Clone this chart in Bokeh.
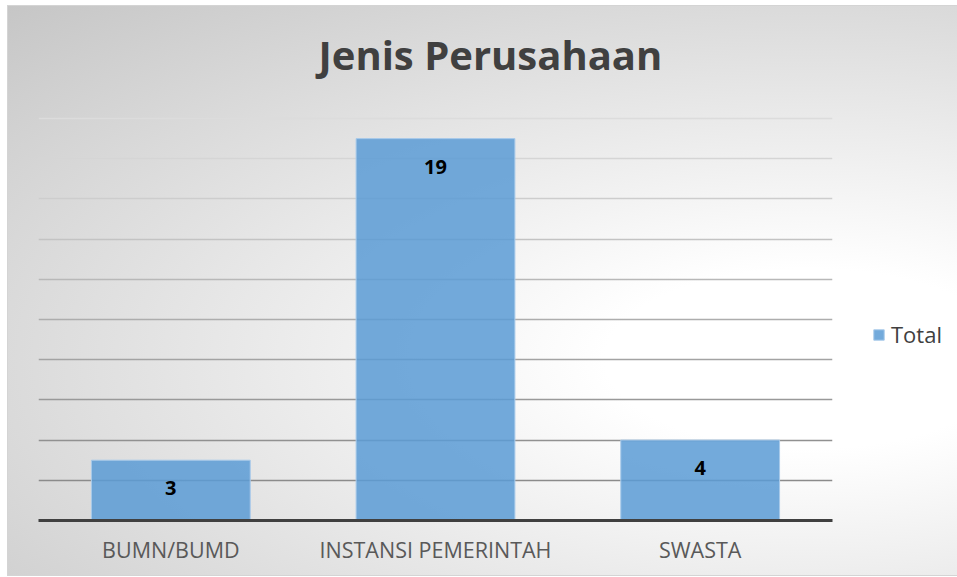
from bokeh.plotting import figure
from bokeh.models import FactorRange, Range1d, Title, Legend, LegendItem
from bokeh.core.properties import value
from bokeh.embed import file_html
from bokeh.resources import INLINE

# ---- data ----
categories = ["BUMN/BUMD", "INSTANSI PEMERINTAH", "SWASTA"]
totals = [3, 19, 4]
grid_values = [2, 4, 6, 8, 10, 12, 14, 16, 18, 20]
title_text = "Jenis Perusahaan"
series_name = "Total"

# ---- style ----
grid_colors = ["#8b8b8b", "#919191", "#999999", "#a3a3a3", "#adadad",
               "#b8b8b8", "#c3c3c3", "#cdcdcd", "#d5d5d5", "#dcdcdc"]
FONT = "Open Sans"

p = figure(
    x_range=FactorRange(factors=categories, range_padding=0),
    y_range=Range1d(0, 20.1),
    frame_width=794, frame_height=404,
    min_border_left=30, min_border_right=123,
    min_border_top=110, min_border_bottom=55,
    output_backend="svg", toolbar_location=None, tools="",
)
p.styles = {
    "background": "radial-gradient(ellipse farthest-corner at 58% 62%, #ffffff 0%, #ffffff 18%, #c6c6c6 100%)",
    "border": "1px solid #d4d4d4",
    "margin-left": "7px",
    "margin-top": "5px",
}
p.background_fill_color = None
p.border_fill_color = None
p.outline_line_color = None

# spacer nearest the frame, then the title above it
p.add_layout(Title(text=" ", text_font_size="1px", standoff=20), "above")
p.add_layout(Title(text=title_text, align="left", offset=280,
                   vertical_align="top", standoff=20,
                   text_font=FONT, text_font_style="bold",
                   text_font_size="40px", text_color="#404040"), "above")

p.yaxis.visible = False
p.xgrid.visible = False
p.ygrid.visible = False
p.xaxis.major_tick_line_color = None
p.xaxis.minor_tick_line_color = None
p.xaxis.axis_line_color = "#404040"
p.xaxis.axis_line_width = 3
p.xaxis.major_label_text_font = FONT
p.xaxis.major_label_text_font_size = "21.5px"
p.xaxis.major_label_text_color = "#595959"
p.xaxis.major_label_standoff = 8

p.hspan(y=grid_values, line_color=grid_colors, line_width=1.5)

r = p.vbar(x=categories, top=totals, width=0.6,
           fill_color="#5b9bd5", fill_alpha=0.85,
           line_color="#a8caea", line_width=1)

p.text(x=categories, y=totals, text=[str(v) for v in totals],
       y_offset=28, text_align="center", text_baseline="middle",
       text_font=value(FONT), text_font_style="bold",
       text_font_size="20px", text_color="black")

legend = Legend(items=[LegendItem(label=series_name, renderers=[r])],
                location=(40, 171), margin=0, padding=12,
                glyph_width=13, glyph_height=13, label_standoff=6,
                label_text_font=FONT, label_text_font_size="22px",
                label_text_color="#404040",
                background_fill_color="white", background_fill_alpha=0.3,
                border_line_color=None)
p.add_layout(legend, "right")

open("out.html", "w").write(file_html(p, INLINE))
